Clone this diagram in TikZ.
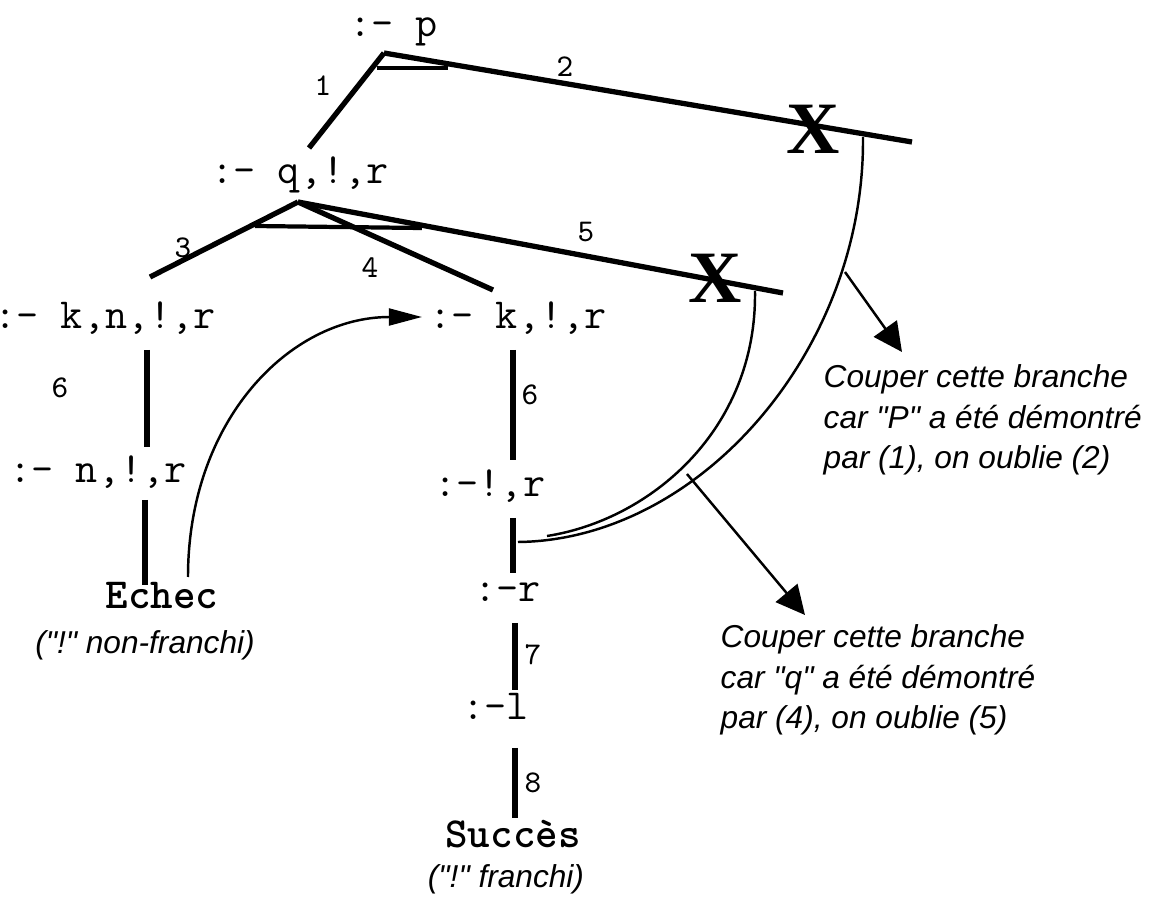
\documentclass[tikz,border=0pt]{standalone}
\usepackage{fontspec}
\newfontfamily\notefont{Liberation Sans}
\newfontfamily\crossfont{Liberation Serif}
\usepackage{tikz}
\usetikzlibrary{arrows.meta}
\tikzset{
  goal/.style={font=\ttfamily\fontsize{12.2}{14}\selectfont, inner sep=0pt, anchor=base west},
  result/.style={font=\ttfamily\bfseries\fontsize{12.2}{14}\selectfont, inner sep=0pt, anchor=base},
  note/.style={font=\notefont\itshape\fontsize{9}{11.5}\selectfont, inner sep=0pt, align=left},
  num/.style={font=\ttfamily\fontsize{9}{10}\selectfont, inner sep=0pt},
  cross/.style={font=\crossfont\bfseries\fontsize{21}{21}\selectfont, inner sep=0pt},
  branch/.style={line width=1.5pt},
  tie/.style={line width=1.2pt},
  link/.style={line width=0.7pt}
}

\begin{document}
\begin{tikzpicture}[x=0.01cm, y=-0.01cm]
  \useasboundingbox (0,0) rectangle (1150,897);
  \foreach \n/\x/\y/\t in {
    p/349/37/{:- p}, q/211/183/{:- q,!,r},
    kn/-6/328/{:- k,n,!,r}, k/429/328/{:- k,!,r},
    n/9/482/{:- n,!,r}, cr/434/497/{:-!,r},
    r/474/602/{:-r}, l/462/720/{:-l}}{
    \node[goal] (\n) at (\x,\y) {\t};
  }
  \node[result] (echec) at (162,609) {Echec};
  \node[result] (succes) at (513,847) {Succès};
  \node[note, anchor=base] (echecwhy) at (145,653) {("!" non-franchi)};
  \node[note, anchor=base] (succeswhy) at (506,888) {("!" franchi)};
  \node[cross] (x1) at (813,129) {X};
  \node[cross] (x2) at (715,278) {X};
  \foreach \n/\x/\y in {
    pA/384/53, qT/309/148, b2/912/142, pL/377/68, pR/448/68,
    qA/298/202, knT/150/277, kT/493/290, b5/783/293, qL/255/226, qR/422/228,
    knB/147/350, nT/147/447, nB/145/500, eT/145/585,
    kB/513/350, crT/513/460, crB/513/518, rT/513/573,
    rB/515/623, lT/515/690, lB/515/748, sT/515/818,
    c1s/863/137, c2s/755/291, cEnd/518/542, cMid/547/536,
    a1s/845/272, a1e/902/352, a2s/687/474, a2e/805/615,
    es/188/577, ee/422/317}{
    \coordinate (\n) at (\x,\y);
  }
  \foreach \a/\b in {pA/qT, pA/b2, qA/knT, qA/kT, qA/b5,
    knB/nT, nB/eT, kB/crT, crB/rT, rB/lT, lB/sT}{
    \draw[branch] (\a) -- (\b);
  }
  \draw[tie] (pL) -- (pR);
  \draw[tie] (qL) -- (qR);
  \foreach \n/\x/\y/\t in {
    e1/323/86/1, e2/565/67/2, e3/183/248/3, e4/370/268/4, e5/586/232/5,
    e6/60/388/6, e7/530/395/6, e8/533/655/7, e9/533/783/8}{
    \node[num] (\n) at (\x,\y) {\t};
  }
  \draw[link] (c1s) .. controls (865,350) and (700,540) .. (cEnd);
  \draw[link] (c2s) .. controls (757,430) and (650,520) .. (cMid);
  \draw[link, -{Triangle[length=8.2pt, width=8pt]}] (a1s) -- (a1e);
  \draw[link, -{Triangle[length=8.2pt, width=8pt]}] (a2s) -- (a2e);
  \draw[link, -{Triangle[length=9.4pt, width=4.8pt]}] (es) .. controls (188,420) and (290,317) .. (ee);
  \node[note, anchor=north west] (why1) at (823,364) {Couper cette branche\\car "P" a été démontré\\par (1), on oublie (2)};
  \node[note, anchor=north west] (why2) at (720,624) {Couper cette branche\\car "q" a été démontré\\par (4), on oublie (5)};
\end{tikzpicture}
\end{document}
